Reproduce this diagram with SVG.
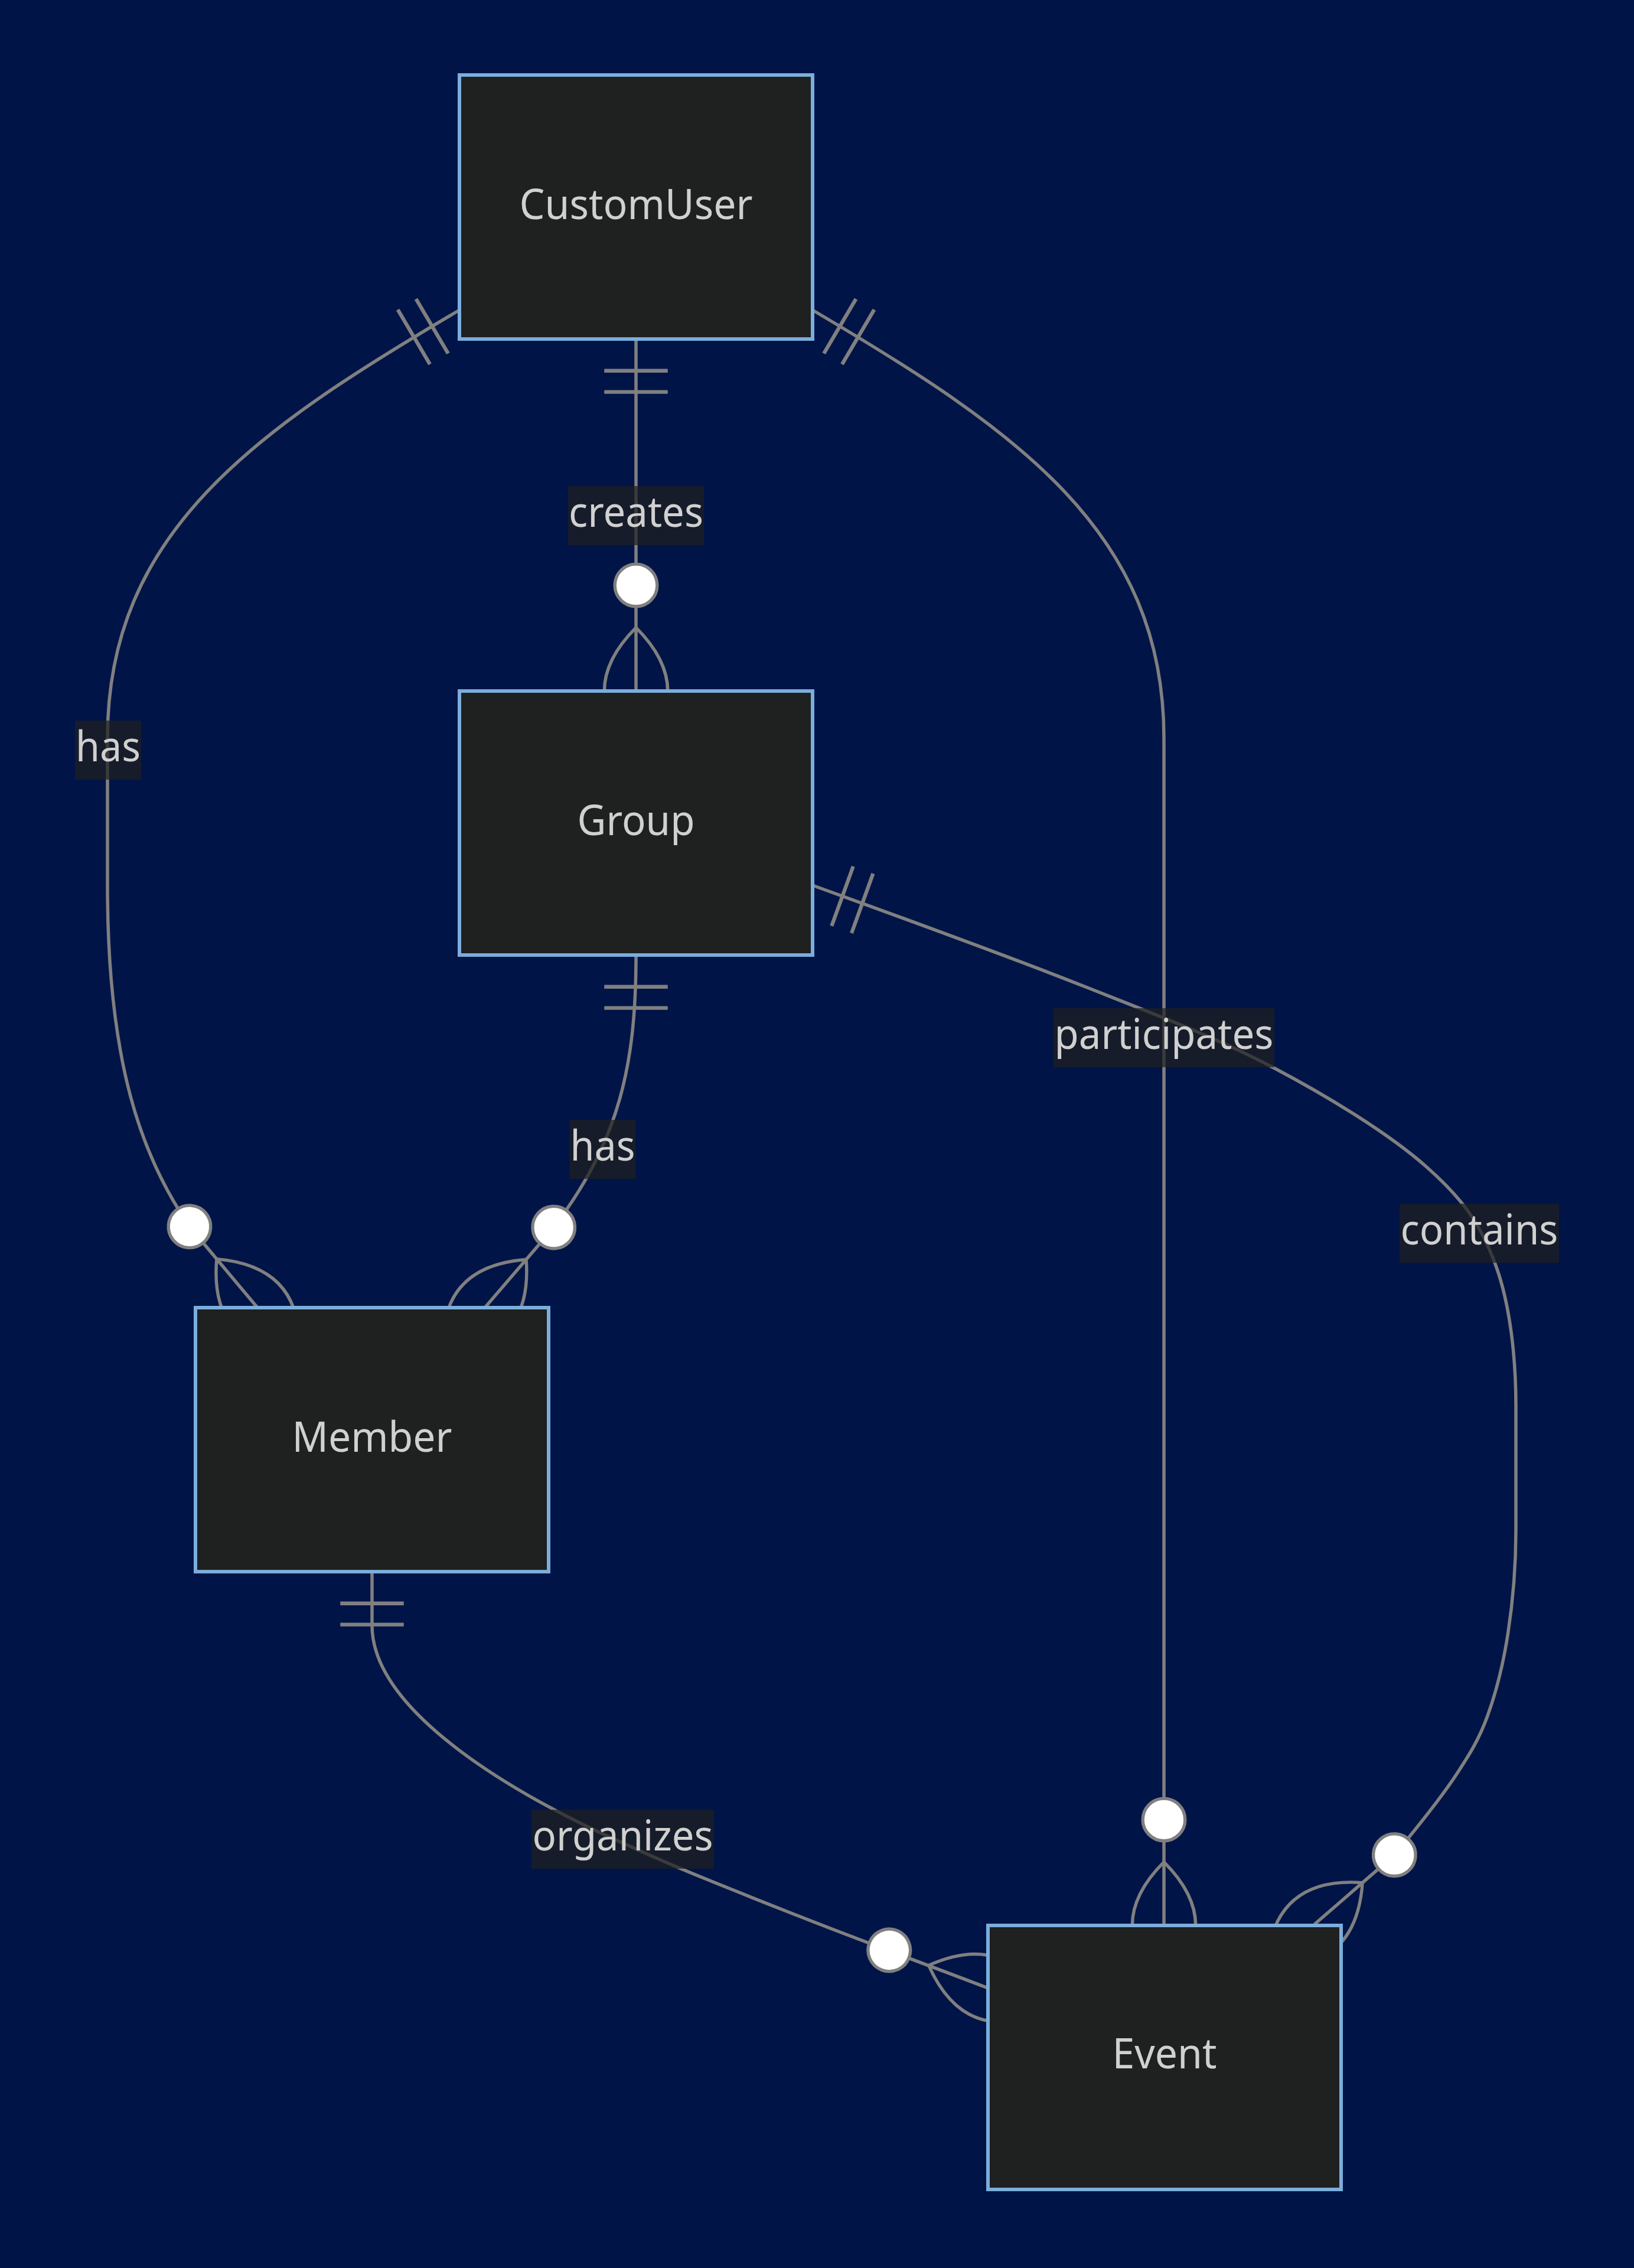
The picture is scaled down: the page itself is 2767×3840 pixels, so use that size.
<svg xmlns="http://www.w3.org/2000/svg" width="2767" height="3840" viewBox="0 0 2767 3840">
<style>
.bg{fill:#001447}
.entity{fill:#1f2020;stroke:#7aaedc;stroke-width:6}
.ename{font-family:"Noto Sans","Open Sans","DejaVu Sans",sans-serif;font-size:72px;fill:#d0d0d0;text-anchor:middle}
.rel{fill:none;stroke:#808080;stroke-width:5.5}
.lblbox{fill:#1f2020;opacity:0.72}
.lbl{font-family:"Noto Sans","Open Sans","DejaVu Sans",sans-serif;font-size:72px;fill:#d0d0d0;text-anchor:middle}
</style>
<defs>
<marker id="ONLY_ONE_START" viewBox="0 0 18 18" refX="0" refY="9" markerWidth="107.5" markerHeight="107.5" markerUnits="userSpaceOnUse" orient="auto">
<path d="M9,0 L9,18 M15,0 L15,18" fill="none" stroke="#808080" stroke-width="1.05"/>
</marker>
<marker id="ZERO_OR_MORE_END" viewBox="0 0 57 36" refX="39" refY="18" markerWidth="340.3" markerHeight="214.9" markerUnits="userSpaceOnUse" orient="auto">
<circle cx="9" cy="18" r="6" fill="#ffffff" stroke="#808080" stroke-width="0.9"/>
<path d="M21,18 Q39,0 57,18 Q39,36 21,18" fill="none" stroke="#808080" stroke-width="0.9"/>
</marker>
</defs>
<rect class="bg" x="0" y="0" width="2767" height="3840"/>
<g id="connectors">
<path id="e-creates" class="rel" d="M1077,574 L1077,1170" marker-start="url(#ONLY_ONE_START)" marker-end="url(#ZERO_OR_MORE_END)"/>
<path id="e-has-user-member" class="rel" d="M778,525 C433.6,728 182,900 182,1250 L182,1500 C182,1800 240,1960 322,2078 L436,2214" marker-start="url(#ONLY_ONE_START)" marker-end="url(#ZERO_OR_MORE_END)"/>
<path id="e-participates" class="rel" d="M1376,525 C1720.4,728 1971,900 1971,1250 L1971,3260" marker-start="url(#ONLY_ONE_START)" marker-end="url(#ZERO_OR_MORE_END)"/>
<path id="e-has-group-member" class="rel" d="M1077,1617 C1077,1800 1050,1930 937,2079 L821,2214" marker-start="url(#ONLY_ONE_START)" marker-end="url(#ZERO_OR_MORE_END)"/>
<path id="e-contains" class="rel" d="M1376,1499 C1529.8,1554.6 1705.8,1618.5 1836,1670 C1966.2,1721.5 2060.3,1757 2157,1808 C2253.7,1859 2353.5,1920.7 2416,1976 C2478.5,2031.3 2506.8,2072.7 2532,2140 C2557.2,2207.3 2567,2299 2567,2380 L2567,2591 C2567,2649.5 2561.6,2713.4 2553.5,2766 C2545.4,2818.6 2533,2866.9 2518.4,2906.7 C2503.8,2946.5 2488,2971.1 2465.8,3005 C2443.6,3038.9 2395,3100 2361,3141 L2226,3258" marker-start="url(#ONLY_ONE_START)" marker-end="url(#ZERO_OR_MORE_END)"/>
<path id="e-organizes" class="rel" d="M630,2661 L630,2752 C630,2900 880,3045 1071,3127.7 C1152.9,3165.7 1251.4,3204.1 1351.7,3243.8 C1452,3283.5 1566,3325 1673,3366" marker-start="url(#ONLY_ONE_START)" marker-end="url(#ZERO_OR_MORE_END)"/>
</g>
<g id="CustomUser">
<rect class="entity" x="778" y="127" width="598" height="447"/>
<text class="ename" x="1077" y="371" textLength="395" lengthAdjust="spacingAndGlyphs">CustomUser</text>
</g>
<g id="Group">
<rect class="entity" x="778" y="1170" width="598" height="447"/>
<text class="ename" x="1077" y="1414" textLength="199" lengthAdjust="spacingAndGlyphs">Group</text>
</g>
<g id="Member">
<rect class="entity" x="331" y="2214" width="598" height="447"/>
<text class="ename" x="630" y="2458" textLength="271" lengthAdjust="spacingAndGlyphs">Member</text>
</g>
<g id="Event">
<rect class="entity" x="1673" y="3260" width="598" height="447"/>
<text class="ename" x="1972" y="3502" textLength="177" lengthAdjust="spacingAndGlyphs">Event</text>
</g>
<g id="edge-labels">
<rect class="lblbox" x="962" y="823" width="230" height="100"/>
<text class="lbl" x="1077" y="892" textLength="228" lengthAdjust="spacingAndGlyphs">creates</text>
<rect class="lblbox" x="127" y="1220" width="112" height="100"/>
<text class="lbl" x="183" y="1289" textLength="110" lengthAdjust="spacingAndGlyphs">has</text>
<rect class="lblbox" x="964.5" y="1896" width="112" height="100"/>
<text class="lbl" x="1020.5" y="1965" textLength="110" lengthAdjust="spacingAndGlyphs">has</text>
<rect class="lblbox" x="1784" y="1707" width="374" height="100"/>
<text class="lbl" x="1971" y="1776" textLength="371" lengthAdjust="spacingAndGlyphs">participates</text>
<rect class="lblbox" x="2370" y="2038" width="270" height="100"/>
<text class="lbl" x="2505" y="2107" textLength="267" lengthAdjust="spacingAndGlyphs">contains</text>
<rect class="lblbox" x="900" y="3064" width="309" height="100"/>
<text class="lbl" x="1054.5" y="3133" textLength="306" lengthAdjust="spacingAndGlyphs">organizes</text>
</g>
</svg>
